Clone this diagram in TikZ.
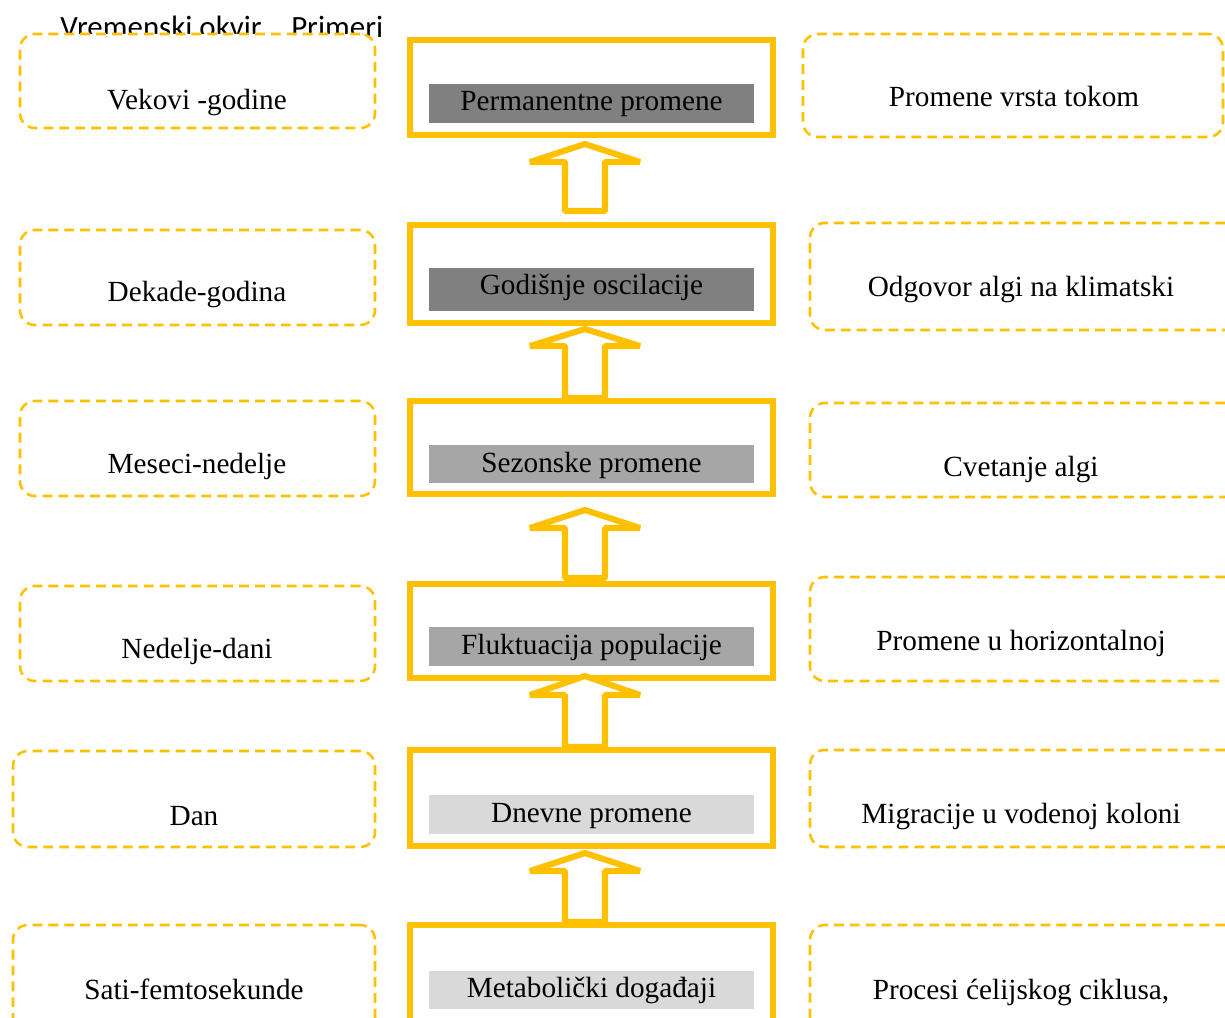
\documentclass[tikz,border=0pt]{standalone}
\usepackage{fontspec}
\setmainfont{Liberation Serif}
\newfontfamily\hdrfont{Carlito}
\usetikzlibrary{fit}
\definecolor{gold}{HTML}{FFC000}
\definecolor{gdark}{HTML}{808080}
\definecolor{gmid}{HTML}{A6A6A6}
\definecolor{glight}{HTML}{D9D9D9}
\begin{document}
\begin{tikzpicture}[x=0.025cm,y=-0.025cm,
  dbox/.style={draw=gold, line width=1.8pt, dash pattern=on 7pt off 4.3pt, rounded corners=0.37cm, fill=white, inner sep=0pt},
  cbox/.style={draw=gold, line width=4.3pt, fill=white, inner sep=0pt},
  txt/.style={anchor=base, inner sep=0pt, font=\fontsize{20.8}{24}\selectfont},
  blockarrow/.style={draw=gold, line width=4.3pt, fill=white, line join=bevel}]
\clip (0,0) rectangle (1225,1018);
\fill[white] (0,0) rectangle (1225,1018);
% header
\node[anchor=base west, inner sep=0pt, font=\hdrfont\fontsize{22}{26}\selectfont] (hdr) at (60,38) {Vremenski okvir\hspace{21pt}Primeri};
% left dashed boxes
\node[dbox, fit={(20,34) (375,128)}] (L1) {};
\node[dbox, fit={(20,230) (375,325)}] (L2) {};
\node[dbox, fit={(20,401) (375,496)}] (L3) {};
\node[dbox, fit={(20,586) (375,681)}] (L4) {};
\node[dbox, fit={(13,751) (375,847)}] (L5) {};
\node[dbox, fit={(13,925) (375,1040)}] (L6) {};
\node[txt] (l1t) at (197,110) {Vekovi -godine};
\node[txt] (l2t) at (197,302) {Dekade-godina};
\node[txt] (l3t) at (197,473) {Meseci-nedelje};
\node[txt] (l4t) at (197,658) {Nedelje-dani};
\node[txt] (l5t) at (194,825) {Dan};
\node[txt] (l6t) at (194,999) {Sati-femtosekunde};
% right dashed boxes
\node[dbox, fit={(803,34) (1223,137)}] (R1) {};
\node[dbox, fit={(810,223) (1240,330)}] (R2) {};
\node[dbox, fit={(810,403) (1240,497)}] (R3) {};
\node[dbox, fit={(810,577) (1240,681)}] (R4) {};
\node[dbox, fit={(810,750) (1240,847)}] (R5) {};
\node[dbox, fit={(810,925) (1240,1040)}] (R6) {};
\node[txt] (r1t) at (1014,107) {Promene vrsta tokom};
\node[txt] (r2t) at (1021,297) {Odgovor algi na klimatski};
\node[txt] (r3t) at (1021,476) {Cvetanje algi};
\node[txt] (r4t) at (1021,650) {Promene u horizontalnoj};
\node[txt] (r5t) at (1021,823) {Migracije u vodenoj koloni};
\node[txt] (r6t) at (1021,999) {Procesi ćelijskog ciklusa,};
% central boxes
\node[cbox, fit={(410,40) (773,135)}] (C1) {};
\node[cbox, fit={(410,225) (773,323)}] (C2) {};
\node[cbox, fit={(410,401) (773,494)}] (C3) {};
\node[cbox, fit={(410,584) (773,678)}] (C4) {};
\node[cbox, fit={(410,750) (773,846)}] (C5) {};
\node[cbox, fit={(410,925) (773,1040)}] (C6) {};
\fill[gdark] (429,84) rectangle (754,123);
\fill[gdark] (429,268) rectangle (754,311);
\fill[gmid] (429,445) rectangle (754,483);
\fill[gmid] (429,627) rectangle (754,666);
\fill[glight] (429,795) rectangle (754,834);
\fill[glight] (429,971) rectangle (754,1009);
\node[txt] (c1t) at (591.5,111) {Permanentne promene};
\node[txt] (c2t) at (591.5,295) {Godišnje oscilacije};
\node[txt] (c3t) at (591.5,472) {Sezonske promene};
\node[txt] (c4t) at (591.5,654) {Fluktuacija populacije};
\node[txt] (c5t) at (591.5,822) {Dnevne promene};
\node[txt] (c6t) at (591.5,997) {Metabolički događaji};
% block arrows
\newcommand{\blkarrow}[3]{%
  \draw[blockarrow] (585,#1) -- (640,#2) -- (605,#2) -- (605,#3) -- (565,#3) -- (565,#2) -- (530,#2) -- cycle;}
\blkarrow{144}{162}{211}
\blkarrow{329}{346}{398}
\blkarrow{510}{528}{578}
\blkarrow{676}{695}{747}
\blkarrow{853}{871}{922}
\end{tikzpicture}
\end{document}
